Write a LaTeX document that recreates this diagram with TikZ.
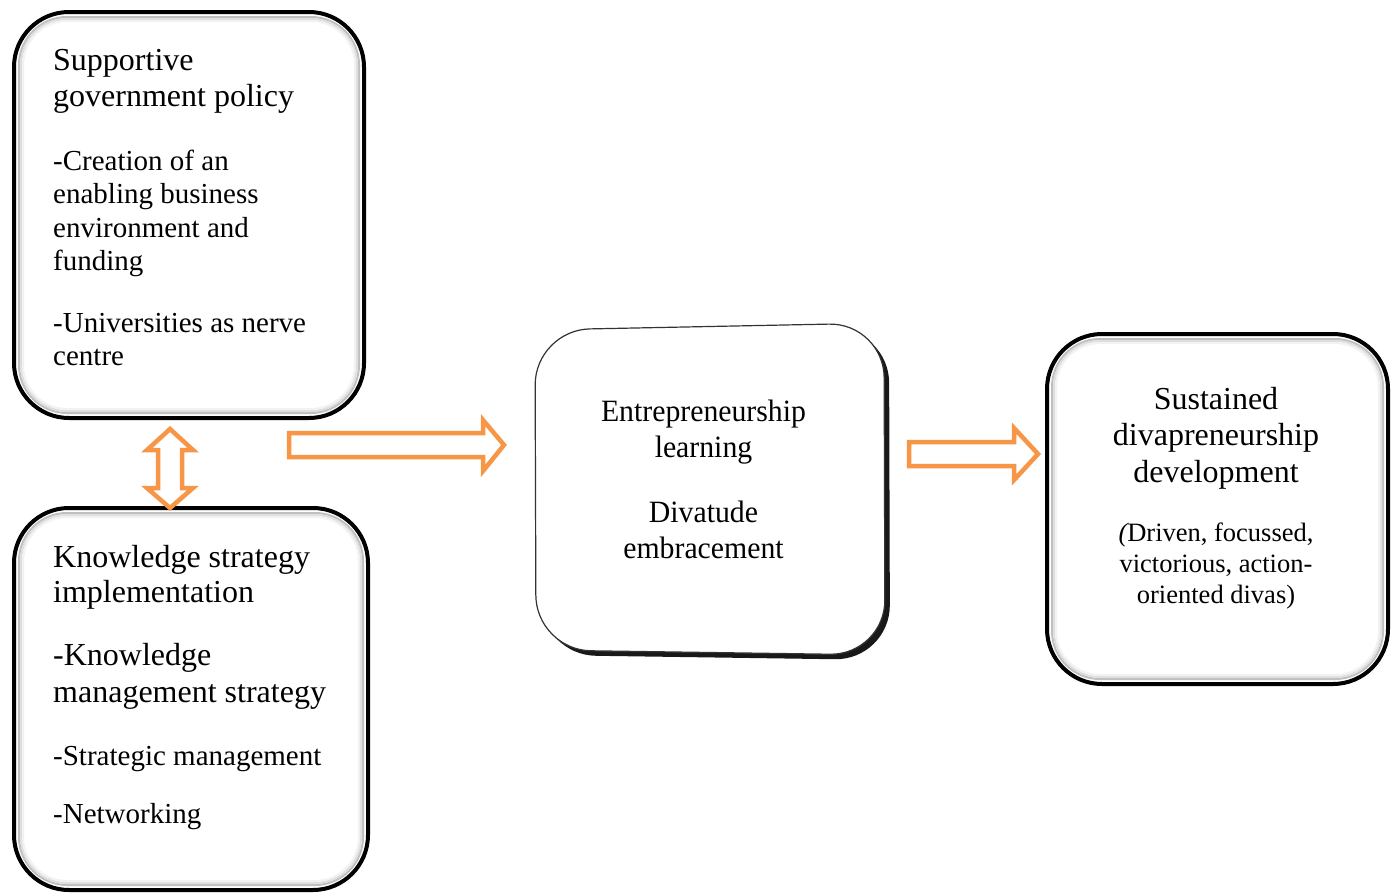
\documentclass[tikz,border=0pt]{standalone}
\usepackage{fontspec}
\setmainfont{Liberation Serif}
\newfontfamily\narrowserif[FakeStretch=0.96]{Liberation Serif}
\usetikzlibrary{calc}

\definecolor{arroworange}{HTML}{F79646}

\tikzset{
  panel/.style={draw=black, line width=4pt, fill=white, rounded corners=55pt, inner sep=0pt},
  bevelA/.style={draw=gray!50, line width=2pt, rounded corners=48pt},
  bevelB/.style={draw=gray!25, line width=2pt, rounded corners=46pt},
  bevelC/.style={draw=gray!10, line width=2pt, rounded corners=44pt},
  blockarrow/.style={draw=arroworange, line width=4.5pt, line join=miter, fill=white},
  lefttext/.style={anchor=base west, inner sep=0pt},
  midtext/.style={anchor=base, inner sep=0pt},
  bigfont/.style={font=\fontsize{32}{36}\selectfont},
  bodyfont/.style={font=\fontsize{29}{33.5}\selectfont},
}

\begin{document}
\begin{tikzpicture}[x=1pt, y=-1pt]
\useasboundingbox (0,0) rectangle (1394,894);

% ---- Supportive government policy ----
\node[panel, minimum width=350pt, minimum height=406pt] (gov) at (189,215) {};
\draw[bevelA] ($(gov.north west)+(7,7)$) rectangle ($(gov.south east)+(-7,-7)$);
\draw[bevelB] ($(gov.north west)+(9,9)$) rectangle ($(gov.south east)+(-9,-9)$);
\draw[bevelC] ($(gov.north west)+(11,11)$) rectangle ($(gov.south east)+(-11,-11)$);
\node[lefttext, bigfont] (govtitle) at (53,70)
  {\begin{tabular}[t]{@{}l@{}}Supportive\\government policy\end{tabular}};
\node[lefttext, bodyfont] (govitemA) at (53,170)
  {\begin{tabular}[t]{@{}l@{}}-Creation of an\\enabling business\\environment and\\funding\end{tabular}};
\node[lefttext, bodyfont] (govitemB) at (53,332)
  {\begin{tabular}[t]{@{}l@{}}-Universities as nerve\\centre\end{tabular}};

% ---- Knowledge strategy implementation ----
\node[panel, minimum width=354pt, minimum height=382pt] (know) at (191,699) {};
\draw[bevelA] ($(know.north west)+(7,7)$) rectangle ($(know.south east)+(-7,-7)$);
\draw[bevelB] ($(know.north west)+(9,9)$) rectangle ($(know.south east)+(-9,-9)$);
\draw[bevelC] ($(know.north west)+(11,11)$) rectangle ($(know.south east)+(-11,-11)$);
\node[lefttext, font=\fontsize{32}{35}\selectfont] (knowtitle) at (53,567)
  {\begin{tabular}[t]{@{}l@{}}Knowledge strategy\\implementation\end{tabular}};
\node[lefttext, font=\fontsize{32}{37}\selectfont] (knowitemA) at (53,665)
  {\begin{tabular}[t]{@{}l@{}}-Knowledge\\management strategy\end{tabular}};
\node[lefttext, bodyfont] (knowitemB) at (53,765) {-Strategic management};
\node[lefttext, bodyfont] (knowitemC) at (53,823) {-Networking};

% ---- Entrepreneurship learning (tilted card with drop shadow) ----
\begin{scope}[shift={(5,5)}]
  \fill[black!90, rounded corners=55pt] (535,330) -- (884,323) -- (885,655) -- (536,650) -- cycle;
\end{scope}
\filldraw[fill=white, draw=black!80, line width=1.2pt, rounded corners=55pt]
  (535,330) -- (884,323) -- (885,655) -- (536,650) -- cycle;
\coordinate (learn) at (710,490);
\node[midtext, font=\narrowserif\fontsize{31}{36}\selectfont] (learntitle) at (703.5,421)
  {\begin{tabular}[t]{@{}c@{}}Entrepreneurship\\learning\end{tabular}};
\node[midtext, font=\narrowserif\fontsize{31}{36}\selectfont] (learnsub) at (703.5,522)
  {\begin{tabular}[t]{@{}c@{}}Divatude\\embracement\end{tabular}};

% ---- Sustained divapreneurship development ----
\node[panel, minimum width=341pt, minimum height=350pt] (sust) at (1217.5,509) {};
\draw[bevelA] ($(sust.north west)+(7,7)$) rectangle ($(sust.south east)+(-7,-7)$);
\draw[bevelB] ($(sust.north west)+(9,9)$) rectangle ($(sust.south east)+(-9,-9)$);
\draw[bevelC] ($(sust.north west)+(11,11)$) rectangle ($(sust.south east)+(-11,-11)$);
\node[midtext, font=\fontsize{32}{36.5}\selectfont] (susttitle) at (1216,409)
  {\begin{tabular}[t]{@{}c@{}}Sustained\\divapreneurship\\development\end{tabular}};
\node[midtext, font=\fontsize{26.5}{31}\selectfont] (sustsub) at (1216,541)
  {\begin{tabular}[t]{@{}c@{}}{\itshape(}Driven, focussed,\\victorious, action-\\oriented divas)\end{tabular}};

% ---- block arrows ----
\draw[blockarrow] (170,429) -- (193,450) -- (182,450) -- (182,488) -- (193,488)
  -- (170,508) -- (147,488) -- (158,488) -- (158,450) -- (147,450) -- cycle;
\draw[blockarrow] (289,433) -- (483,433) -- (483,420) -- (504,445) -- (483,471)
  -- (483,457) -- (289,457) -- cycle;
\draw[blockarrow] (909,442) -- (1014,442) -- (1014,428) -- (1038,454) -- (1014,480)
  -- (1014,466) -- (909,466) -- cycle;
\end{tikzpicture}
\end{document}
